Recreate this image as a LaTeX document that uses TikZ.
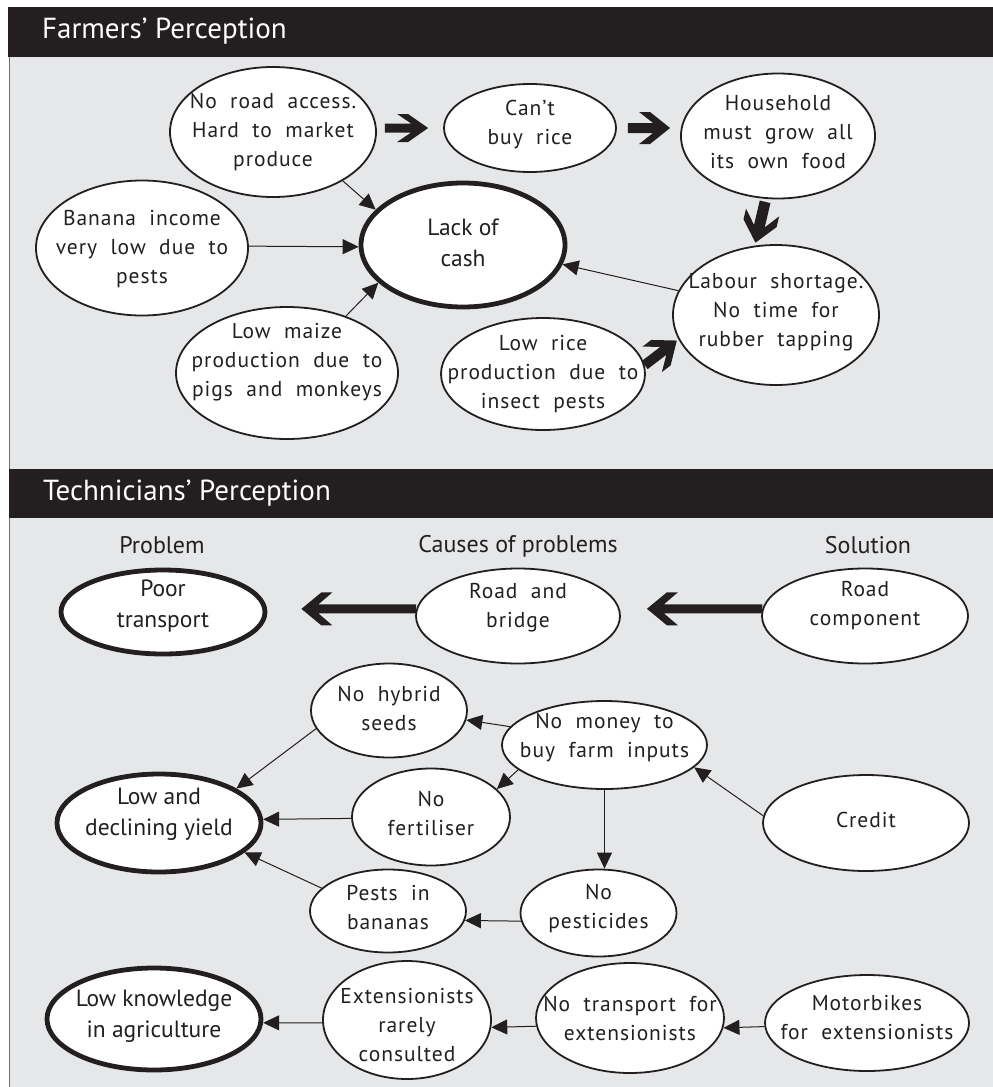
\documentclass[tikz,border=0pt]{standalone}
\usepackage{fontspec}
\setmainfont{PT Sans}
\newfontfamily\nf[LetterSpace=4.5,WordSpace=2.0]{PT Sans}
\newfontfamily\hf{PT Sans}
\usetikzlibrary{shapes.geometric,arrows.meta,calc}
\definecolor{panelgray}{HTML}{E6E7E8}
\definecolor{barblack}{HTML}{231F20}
\definecolor{edgegray}{HTML}{6D6E71}
% fat arrow: #1 start, #2 end, #3 shorten start, #4 shorten end, #5 head half width, #6 shaft half width
\newcommand\fatarr[6]{%
  \coordinate (fas) at ($(#1)!#3!(#2)$);
  \coordinate (fae) at ($(#2)!#4!(#1)$);
  \coordinate (fb1) at ($(fae)!17pt!(fas)$);
  \coordinate (fb2) at ($(fae)!31pt!(fas)$);
  \coordinate (fb3) at ($(fae)!20pt!(fas)$);
  \fill[barblack] ($(fas)!#6!90:(fae)$) -- ($(fb1)!#6!-90:(fas)$) -- ($(fb2)!#5!-90:(fas)$)
     -- ($(fb3)!#5!-90:(fas)$) -- (fae) -- ($(fb3)!#5!90:(fas)$) -- ($(fb2)!#5!90:(fas)$)
     -- ($(fb1)!#6!90:(fas)$) -- ($(fas)!#6!-90:(fae)$) -- cycle;
}
\tikzset{
  ell/.style 2 args={ellipse, draw=barblack, fill=white, line width=1.8pt, inner sep=0pt,
    minimum width=#1pt, minimum height=#2pt},
  thk/.style={line width=4.8pt},
  txt/.style={align=center, font=\nf\fontsize{21.5}{29}\selectfont, text=barblack, inner sep=0pt},
  txtb/.style={align=center, font=\hf\fontsize{23.5}{31}\selectfont, text=barblack, inner sep=0pt},
  hdr/.style={font=\hf\fontsize{29}{34}\selectfont, text=white, inner sep=0pt},
  col/.style={font=\hf\fontsize{24}{28}\selectfont, text=barblack, inner sep=0pt},
  arr/.style={draw=barblack, line width=1pt, -{Triangle[length=16pt,width=15pt]}},
}
\begin{document}
\begin{tikzpicture}[x=1pt,y=-1pt]
\useasboundingbox (0,0) rectangle (993,1087);
% panels
\fill[panelgray] (10,57) rectangle (993,1087);
\draw[edgegray, line width=1.5pt] (9.5,57) -- (9.5,1087);
\fill[barblack] (8,7) rectangle (993,57);
\fill[barblack] (9,469) rectangle (993,518);
\node[hdr, anchor=base west] (t1) at (42,38) {Farmers’ Perception};
\node[hdr, anchor=base west] (t2) at (43,500) {Technicians’ Perception};

% ---------- Farmers' perception ----------
\node[ell={206}{130}, label={[txt]center:{No road access.\\Hard to market\\produce}}] (road) at (273,132) {};
\node[ell={172}{88}, label={[txt,yshift=3pt]center:{Can’t\\buy rice}}] (rice) at (530,128) {};
\node[ell={194}{125}, label={[txt,yshift=4pt]center:{Household\\must grow all\\its own food}}] (house) at (778,136) {};
\node[ell={204}{124}, thk, label={[txtb,yshift=2pt]center:{Lack of\\cash}}] (cash) at (463,245) {};
\node[ell={206}{140}, label={[txt,yshift=3pt]center:{Labour shortage.\\No time for\\rubber tapping}}] (labour) at (776,315) {};
\node[ell={204}{112}, label={[txt]center:{Low rice\\production due to\\insect pests}}] (lowrice) at (543,374) {};
\node[ell={212}{135}, label={[txt,yshift=-1pt]center:{Banana income\\very low due to\\pests}}] (banana) at (142,248) {};
\node[ell={222}{132}, label={[txt,yshift=11pt]center:{Low maize\\production due to\\pigs and monkeys}}] (maize) at (287,373) {};

\draw[arr] (road.-35.5) -- (cash.158);
\draw[arr] (banana.1) -- (cash.181);
\draw[arr] (maize.44) -- (cash.204);
\draw[arr] (labour.166) -- (cash.-11);

\coordinate (r1) at (road.east |- rice.west);
\fatarr{r1}{rice.west}{8pt}{15pt}{14pt}{4.5pt}
\coordinate (r2) at (house.west |- rice.east);
\fatarr{rice.east}{r2}{11pt}{10pt}{16pt}{5pt}
\fatarr{house.-101}{labour.107}{3pt}{3pt}{17pt}{5.5pt}
\fatarr{lowrice.5}{labour.194}{0pt}{2pt}{16pt}{5pt}

% ---------- Technicians' perception ----------
\node[col, anchor=base] (c1) at (162,553) {Problem};
\node[col, anchor=base] (c2) at (518,552) {Causes of problems};
\node[col, anchor=base] (c3) at (868,553) {Solution};

\node[ell={204}{84}, thk, label={[txtb,yshift=6pt]center:{Poor\\transport}}] (poor) at (163,612) {};
\node[ell={204}{95}, label={[txt,yshift=8pt]center:{Road and\\bridge}}] (bridge) at (518,616) {};
\node[ell={206}{95}, label={[txt,yshift=10pt]center:{Road\\component}}] (roadcomp) at (865,616) {};

\node[ell={156}{94}, label={[txt,yshift=2pt]center:{No hybrid\\seeds}}] (hybrid) at (389,710.5) {};
\node[ell={205}{88}, label={[txt,yshift=7pt]center:{No money to\\buy farm inputs}}] (nomoney) at (604.5,745) {};
\node[ell={158}{97}, label={[txt,yshift=4pt]center:{No\\fertiliser}}] (fert) at (431,817) {};
\node[ell={204}{98}, thk, label={[txtb,yshift=9pt]center:{Low and\\declining yield}}] (yield) at (159,823) {};
\node[ell={206}{96}, label={[txt,yshift=3pt]center:{Credit}}] (credit) at (866,823) {};
\node[ell={156}{87}, label={[txt,yshift=5pt]center:{No\\pesticides}}] (pesticides) at (598.5,913) {};
\node[ell={156}{83}, label={[txt,yshift=3pt]center:{Pests in\\bananas}}] (pests) at (388,911) {};
\node[ell={214}{102}, thk, label={[txtb,yshift=3pt]center:{Low knowledge\\in agriculture}}] (knowledge) at (154,1019) {};
\node[ell={168}{118}, label={[txt,yshift=-5pt]center:{Extensionists\\rarely\\consulted}}] (ext) at (407,1020) {};
\node[ell={188}{110}, label={[txt]center:{No transport for\\extensionists}}] (transport) at (630,1018) {};
\node[ell={204}{96}, label={[txt,yshift=5pt]center:{Motorbikes\\for extensionists}}] (motor) at (867,1023) {};

\coordinate (p1) at (poor.east |- bridge.176);
\fatarr{bridge.176}{p1}{0pt}{34pt}{16.5pt}{4.5pt}
\coordinate (p2) at (bridge.east |- roadcomp.176);
\fatarr{roadcomp.176}{p2}{0pt}{26pt}{16.5pt}{4.5pt}

\draw[arr] (nomoney.169) -- (hybrid.-7);
\draw[arr] (nomoney.196) -- (fert.23);
\draw[arr] (nomoney.south) -- (nomoney.south |- pesticides.north);
\draw[arr] (credit.176) -- (nomoney.-14);
\draw[arr] (hybrid.194) -- (yield.24);
\draw[arr] (fert.181) -- (yield.2);
\draw[arr] (pests.161) -- (yield.-19);
\draw[arr] (pesticides.186) -- (pests.-7);
\draw[arr] (ext.182) -- (knowledge.-2);
\draw[arr] (transport.185) -- (ext.-5);
\draw[arr] (motor.182) -- (transport.-6);
\end{tikzpicture}
\end{document}
